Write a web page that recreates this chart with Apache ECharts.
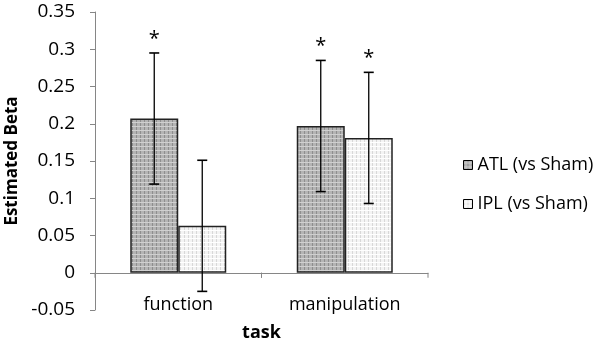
<!DOCTYPE html>
<html>
<head>
<meta charset="utf-8">
<script src="https://cdn.jsdelivr.net/npm/echarts@6/dist/echarts.min.js"></script>
<style>
  html, body { margin: 0; padding: 0; background: #fff; }
  #chart { width: 600px; height: 340px; }
</style>
</head>
<body>
<div id="chart"></div>
<script>
var categories = ['function', 'manipulation'];
var atlValues = [0.207, 0.197];
var iplValues = [0.063, 0.181];
var atlErrors = [0.088, 0.088];
var iplErrors = [0.088, 0.088];
var atlStars = ['*', '*'];
var iplStars = ['', '*'];
var seriesNames = ['ATL (vs Sham)', 'IPL (vs Sham)'];

// small textured fills, like the office-style pattern in the picture
function makePattern(bg, dot, dot2) {
    var c = document.createElement('canvas');
    c.width = 4; c.height = 4;
    var ctx = c.getContext('2d');
    ctx.fillStyle = bg;
    ctx.fillRect(0, 0, 4, 4);
    ctx.fillStyle = dot;
    ctx.fillRect(0, 0, 1, 4);
    ctx.fillStyle = dot2;
    ctx.fillRect(0, 2, 4, 1);
    return c;
}
var atlFill = { image: makePattern('#b4b4b4', '#8e8e8e', '#d0d0d0'), repeat: 'repeat' };
var iplFill = { image: makePattern('#f4f4f4', '#d8d8d8', '#ffffff'), repeat: 'repeat' };

var font = 'Open Sans';
var halfBar = 24;

function errData(vals, errs) {
    return vals.map(function (v, i) { return [i, v, errs[i]]; });
}

function errRender(side, stars) {
    return function (params, api) {
        var i = api.value(0), v = api.value(1), e = api.value(2);
        var top = api.coord([i, v + e]);
        var bot = api.coord([i, v - e]);
        var x = top[0] + side * halfBar;
        var cap = 5;
        var children = [
            { type: 'line', shape: { x1: x, y1: top[1], x2: x, y2: bot[1] }, style: { stroke: '#000', lineWidth: 1.3 } },
            { type: 'line', shape: { x1: x - cap, y1: top[1], x2: x + cap, y2: top[1] }, style: { stroke: '#000', lineWidth: 1.6 } },
            { type: 'line', shape: { x1: x - cap, y1: bot[1], x2: x + cap, y2: bot[1] }, style: { stroke: '#000', lineWidth: 1.6 } }
        ];
        var s = stars[params.dataIndex];
        if (s) {
            children.push({ type: 'text', x: x, y: top[1] - 14,
                style: { text: s, fill: '#000', font: '20px ' + font, align: 'center', verticalAlign: 'middle' } });
        }
        return { type: 'group', children: children };
    };
}

// category boundary ticks on the zero line
function tickRender(params, api) {
    var i = api.value(0);
    var p = api.coord([i, 0]);
    var w = api.size([1, 0])[0];
    var kids = [];
    [p[0] - w / 2, p[0] + w / 2].forEach(function (x) {
        kids.push({ type: 'line', shape: { x1: x, y1: p[1], x2: x, y2: p[1] + 5 }, style: { stroke: '#868686', lineWidth: 1 } });
    });
    return { type: 'group', children: kids };
}

var chart = echarts.init(document.getElementById('chart'));
var option = {
    animation: false,
    textStyle: { fontFamily: font },
    grid: { left: 95, right: 172, top: 12, bottom: 30, outerBoundsMode: 'none', containLabel: false },
    legend: {
        orient: 'vertical',
        left: 458,
        top: 151,
        itemWidth: 9,
        itemHeight: 9,
        itemGap: 21,
        icon: 'rect',
        data: seriesNames,
        textStyle: { fontSize: 18, color: '#000', fontFamily: font },
        itemStyle: { borderColor: '#000', borderWidth: 1 }
    },
    xAxis: {
        type: 'category',
        data: categories,
        name: 'task',
        nameLocation: 'middle',
        nameGap: 14,
        nameTextStyle: { fontSize: 18, fontWeight: 'bold', color: '#000' },
        axisLine: { onZero: true, lineStyle: { color: '#868686', width: 1 } },
        axisTick: { show: false },
        axisLabel: { fontSize: 18, color: '#000', margin: -14 }
    },
    yAxis: {
        type: 'value',
        min: -0.05,
        max: 0.35,
        interval: 0.05,
        name: 'Estimated Beta',
        nameLocation: 'middle',
        nameGap: 68,
        nameTextStyle: { fontSize: 17, fontWeight: 'bold', color: '#000' },
        axisLine: { show: true, lineStyle: { color: '#868686', width: 1 } },
        axisTick: { show: true, length: 5, lineStyle: { color: '#868686' } },
        axisLabel: { fontSize: 19, color: '#000', margin: 20 },
        splitLine: { show: false }
    },
    series: [
        {
            name: seriesNames[0],
            type: 'bar',
            data: atlValues,
            barWidth: 48,
            barGap: '0%',
            itemStyle: { color: atlFill, borderColor: '#222', borderWidth: 1.5 }
        },
        {
            name: seriesNames[1],
            type: 'bar',
            data: iplValues,
            barWidth: 48,
            itemStyle: { color: iplFill, borderColor: '#222', borderWidth: 1.5 }
        },
        {
            type: 'custom',
            data: errData(atlValues, atlErrors),
            renderItem: errRender(-1, atlStars),
            z: 10,
            silent: true
        },
        {
            type: 'custom',
            data: errData(iplValues, iplErrors),
            renderItem: errRender(1, iplStars),
            z: 10,
            silent: true
        },
        {
            type: 'custom',
            data: categories.map(function (c, i) { return [i]; }),
            renderItem: tickRender,
            silent: true
        }
    ]
};
chart.setOption(option);
</script>
</body>
</html>
